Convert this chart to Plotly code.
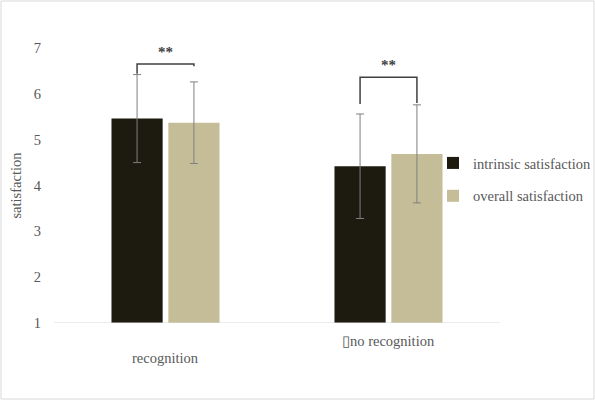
import plotly.graph_objects as go

categories = ["recognition", "\u25afno recognition"]
series_names = ["intrinsic satisfaction", "overall satisfaction"]
intrinsic = [5.46, 4.42]
intrinsic_err = [0.96, 1.14]
overall = [5.37, 4.69]
overall_err = [0.89, 1.07]
bracket_top = [6.65, 6.36]
bracket_left_bottom = [6.44, 5.78]
bracket_right_bottom = [6.6, 5.8]
sig_labels = ["**", "**"]
y_ticks = [1, 2, 3, 4, 5, 6, 7]

dark = "#1D1B10"
tan = "#C4BD97"
font_family = "Liberation Serif"
txt_color = "#595959"
FS = 14.5

W, H = 595, 400
ML, MR, MT, MB = 54, 95, 48, 77
PW, PH = W - ML - MR, H - MT - MB

BARGAP = 0.49
half_off = (1 - BARGAP) / 4  # center offset of each bar in category units

fig = go.Figure()
xs = list(range(len(categories)))
fig.add_trace(go.Bar(
    x=xs, y=intrinsic, name=series_names[0], marker_color=dark,
    marker_line_width=0, legendgroup="a",
    error_y=dict(type="data", array=intrinsic_err, color="#7f7f7f", thickness=1, width=4),
))
fig.add_trace(go.Bar(
    x=xs, y=overall, name=series_names[1], marker_color=tan,
    marker_line_width=0, legendgroup="b",
    error_y=dict(type="data", array=overall_err, color="#7f7f7f", thickness=1, width=4),
))

shapes = []
annotations = []
for i in xs:
    xl = i - half_off
    xr = i + half_off
    shapes.append(dict(
        type="path",
        path=f"M {xl},{bracket_left_bottom[i]} L {xl},{bracket_top[i]} L {xr},{bracket_top[i]} L {xr},{bracket_right_bottom[i]}",
        xref="x", yref="y", line=dict(color="#404040", width=1.5),
    ))
    annotations.append(dict(
        x=i, y=bracket_top[i], xref="x", yref="y", text=f"<b>{sig_labels[i]}</b>",
        showarrow=False, yanchor="bottom", yshift=2,
        font=dict(family=font_family, size=15, color="#404040"),
    ))

label_y = [-0.127, -0.065]
for i, c in enumerate(categories):
    annotations.append(dict(
        x=i, y=label_y[i], xref="x", yref="paper", text=c, showarrow=False,
        yanchor="middle", font=dict(family=font_family, size=FS, color=txt_color),
    ))

# outer chart border
shapes.append(dict(type="rect", xref="paper", yref="paper",
                   x0=-(ML - 1) / PW, x1=1 + (MR - 1) / PW,
                   y0=-(MB - 1) / PH, y1=1 + (MT - 1) / PH,
                   line=dict(color="#d9d9d9", width=1), layer="below"))
# baseline
shapes.append(dict(type="line", xref="paper", yref="y", x0=0, x1=1, y0=1, y1=1,
                   line=dict(color="#d9d9d9", width=1), layer="above"))

fig.update_layout(
    width=W, height=H,
    margin=dict(l=ML, r=MR, t=MT, b=MB, autoexpand=False),
    paper_bgcolor="white", plot_bgcolor="white",
    barmode="group", bargap=BARGAP, bargroupgap=0.1,
    font=dict(family=font_family, size=FS, color=txt_color),
    xaxis=dict(range=[-0.5, 1.5], showticklabels=False, showgrid=False,
               showline=False, zeroline=False, ticks=""),
    yaxis=dict(range=[1, 7], tickvals=y_ticks, showgrid=False, zeroline=False,
               showline=False, ticks="", ticklabelstandoff=12,
               title=dict(text="satisfaction", font=dict(family=font_family, size=FS, color=txt_color), standoff=8)),
    legend=dict(xref="container", yref="container", x=433 / W, y=1 - 147 / H,
                xanchor="left", yanchor="top",
                tracegroupgap=11, font=dict(family=font_family, size=FS, color=txt_color),
                bgcolor="rgba(0,0,0,0)", itemwidth=30),
    shapes=shapes,
    annotations=annotations,
    showlegend=True,
)

fig.write_html("out.html")
